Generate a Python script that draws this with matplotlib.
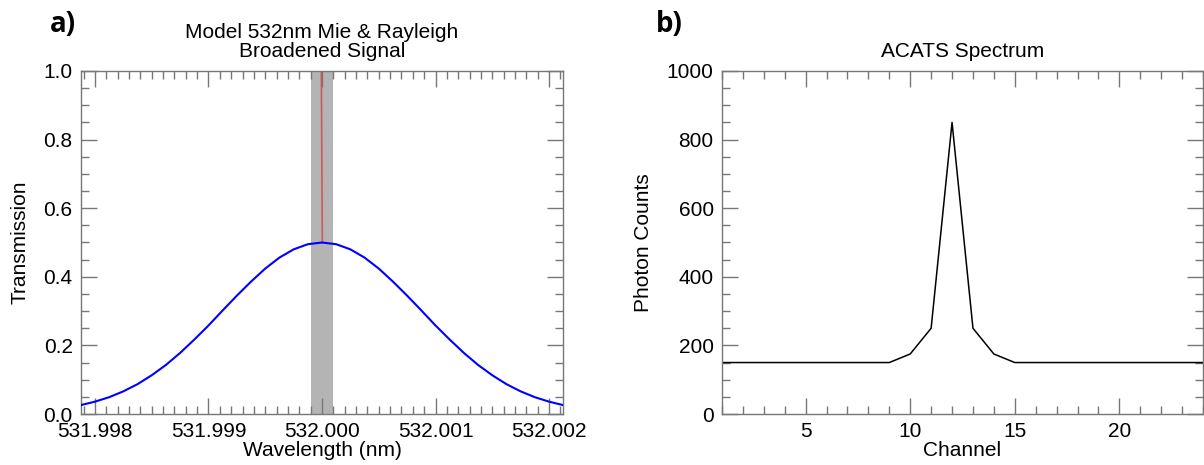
import matplotlib
matplotlib.use("Agg")
import matplotlib.pyplot as plt
from matplotlib.ticker import MultipleLocator, FormatStrFormatter

plt.rcParams["font.family"] = ["Liberation Sans", "DejaVu Sans"]
plt.rcParams["font.size"] = 15

# panel a) - broadened Rayleigh signal (blue), Mie spike (red), filter band (grey)
wl_offset = [-0.002123, -0.002, -0.001875, -0.00175, -0.001625, -0.0015, -0.001375,
             -0.00125, -0.001125, -0.001, -0.000875, -0.00075, -0.000625, -0.0005,
             -0.000375, -0.00025, -0.000125, 0.0, 0.000125, 0.00025, 0.000375,
             0.0005, 0.000625, 0.00075, 0.000875, 0.001, 0.001125, 0.00125,
             0.001375, 0.0015, 0.001625, 0.00175, 0.001875, 0.002, 0.002123]
rayleigh = [0.026, 0.036, 0.049, 0.066, 0.087, 0.113, 0.143, 0.178, 0.217, 0.258,
            0.302, 0.345, 0.386, 0.424, 0.456, 0.480, 0.495, 0.500, 0.495, 0.480,
            0.456, 0.424, 0.386, 0.345, 0.302, 0.258, 0.217, 0.178, 0.143, 0.113,
            0.087, 0.066, 0.049, 0.036, 0.026]
mie_offset = [-0.000006, 0.000003]
mie = [1.0, 0.5]
band = (531.9999, 532.0001)

# panel b) - ACATS spectrum
channel = list(range(1, 25))
counts = [150, 150, 150, 150, 150, 150, 150, 150, 150, 175, 250, 850, 250, 175,
          150, 150, 150, 150, 150, 150, 150, 150, 150, 150]

wl = [532.0 + d for d in wl_offset]
mie_wl = [532.0 + d for d in mie_offset]

fig = plt.figure(figsize=(12.04, 4.65), dpi=100)
ax1 = fig.add_axes([81 / 1204, 1 - 414 / 465, 482 / 1204, 343 / 465])
ax2 = fig.add_axes([722 / 1204, 1 - 414 / 465, 481 / 1204, 343 / 465])

spine_col = "#777777"


def style_axes(ax):
    for s in ax.spines.values():
        s.set_color(spine_col)
        s.set_linewidth(1.0)
    ax.tick_params(which="both", direction="in", top=True, right=True,
                   color=spine_col, width=1.0, labelsize=15, pad=6)
    ax.tick_params(which="major", length=11.5)
    ax.tick_params(which="minor", length=6)


# panel a
ax1.axvspan(band[0], band[1], color="#b4b4b4", lw=0, zorder=1)
ax1.plot(wl, rayleigh, color="blue", lw=1.5, zorder=3)
ax1.plot(mie_wl, mie, color="#d05050", lw=1.2, alpha=0.9, zorder=2)
ax1.set_xlim(531.997877, 532.002123)
ax1.set_ylim(0, 1.0)
ax1.xaxis.set_major_locator(MultipleLocator(0.001))
ax1.xaxis.set_minor_locator(MultipleLocator(0.0001))
ax1.xaxis.set_major_formatter(FormatStrFormatter("%.3f"))
ax1.yaxis.set_major_locator(MultipleLocator(0.2))
ax1.yaxis.set_minor_locator(MultipleLocator(0.05))
ax1.yaxis.set_major_formatter(FormatStrFormatter("%.1f"))
style_axes(ax1)
ax1.set_xlabel("Wavelength (nm)", fontsize=15, labelpad=0)
ax1.set_ylabel("Transmission", fontsize=15, labelpad=10)
ax1.set_title("Model 532nm Mie & Rayleigh\nBroadened Signal", fontsize=15,
              pad=10, linespacing=1.0)

# panel b
ax2.plot(channel, counts, color="black", lw=1.1)
ax2.set_xlim(1, 24)
ax2.set_ylim(0, 1000)
ax2.xaxis.set_major_locator(MultipleLocator(5))
ax2.xaxis.set_minor_locator(MultipleLocator(1))
ax2.yaxis.set_major_locator(MultipleLocator(200))
ax2.yaxis.set_minor_locator(MultipleLocator(50))
style_axes(ax2)
ax2.set_xlabel("Channel", fontsize=15, labelpad=0)
ax2.set_ylabel("Photon Counts", fontsize=15, labelpad=10)
ax2.set_title("ACATS Spectrum", fontsize=15, pad=10)

fig.text(50 / 1204, 1 - 24 / 465, "a)", fontsize=20, fontweight="bold", va="center",
         family=["Open Sans", "DejaVu Sans"])
fig.text(656 / 1204, 1 - 24 / 465, "b)", fontsize=20, fontweight="bold", va="center",
         family=["Open Sans", "DejaVu Sans"])

fig.savefig("out.png", dpi=100)
